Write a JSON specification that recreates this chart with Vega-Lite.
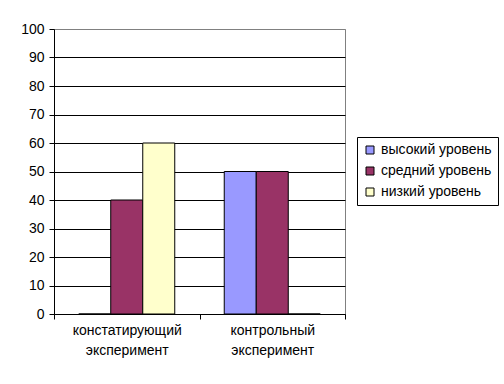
{
  "$schema": "https://vega.github.io/schema/vega-lite/v6.json",
  "width": 291,
  "height": 285,
  "autosize": {"type": "none"},
  "padding": {"left": 54, "top": 29, "right": 159, "bottom": 70},
  "background": "white",
  "config": {
    "font": "Liberation Sans",
    "view": {"stroke": "#808080", "strokeWidth": 1, "fill": "white"},
    "axis": {"labelColor": "black", "labelFontSize": 14, "labelFont": "Liberation Sans", "domainColor": "black", "tickColor": "black", "titleFontSize": 14}
  },
  "data": {
    "values": [
      {"group": "констатирующий эксперимент", "level": "высокий уровень", "value": 0},
      {"group": "констатирующий эксперимент", "level": "средний уровень", "value": 40},
      {"group": "констатирующий эксперимент", "level": "низкий уровень", "value": 60},
      {"group": "контрольный эксперимент", "level": "высокий уровень", "value": 50},
      {"group": "контрольный эксперимент", "level": "средний уровень", "value": 50},
      {"group": "контрольный эксперимент", "level": "низкий уровень", "value": 0}
    ]
  },
  "mark": {"type": "bar", "stroke": "black", "strokeWidth": 1},
  "encoding": {
    "x": {
      "field": "group", "type": "nominal", "sort": null,
      "scale": {"paddingInner": 0, "paddingOuter": 0},
      "axis": {
        "title": null, "labelAngle": 0, "tickBand": "extent", "tickSize": 5,
        "labelPadding": 4, "labelLineHeight": 20,
        "labelExpr": "split(datum.label, ' ')", "grid": false
      }
    },
    "xOffset": {
      "field": "level", "type": "nominal",
      "sort": ["высокий уровень", "средний уровень", "низкий уровень"],
      "scale": {"paddingInner": 0, "paddingOuter": 0.773}
    },
    "y": {
      "field": "value", "type": "quantitative",
      "scale": {"domain": [0, 100], "nice": false},
      "axis": {
        "title": null, "values": [0, 10, 20, 30, 40, 50, 60, 70, 80, 90, 100],
        "grid": true,
        "gridColor": {"condition": {"test": "datum.value == 100", "value": "#808080"}, "value": "black"},
        "gridOpacity": 1, "tickSize": 5, "labelPadding": 5
      }
    },
    "fill": {
      "field": "level", "type": "nominal",
      "sort": ["высокий уровень", "средний уровень", "низкий уровень"],
      "scale": {"domain": ["высокий уровень", "средний уровень", "низкий уровень"], "range": ["#9999FF", "#993366", "#FFFFCC"]},
      "legend": {
        "title": null, "orient": "none", "legendX": 303, "legendY": 108,
        "strokeColor": "black", "fillColor": "white", "padding": 6,
        "symbolType": "square", "symbolSize": 64, "symbolStrokeColor": "black", "symbolStrokeWidth": 1,
        "labelFontSize": 14, "labelColor": "black", "labelFont": "Liberation Sans",
        "rowPadding": 7, "labelOffset": 4
      }
    }
  }
}
